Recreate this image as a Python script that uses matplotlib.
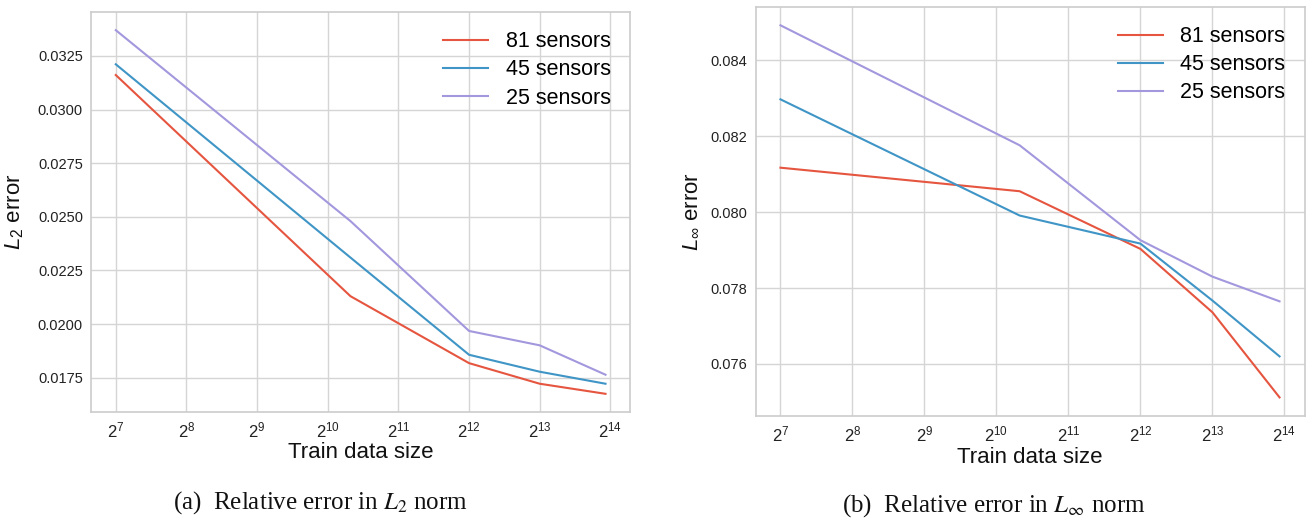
import matplotlib
matplotlib.use("Agg")
import matplotlib.pyplot as plt
from matplotlib.ticker import ScalarFormatter

# ---- data ----
train_sizes = [128, 1280, 4096, 8192, 15625]
labels = ["81 sensors", "45 sensors", "25 sensors"]

l2_81 = [0.03161, 0.0213, 0.01818, 0.01722, 0.01675]
l2_45 = [0.03211, 0.0231, 0.01857, 0.01778, 0.01722]
l2_25 = [0.0337, 0.0248, 0.01968, 0.01901, 0.01764]

linf_81 = [0.08117, 0.08055, 0.07903, 0.07736, 0.07512]
linf_45 = [0.08297, 0.07991, 0.07917, 0.07767, 0.0762]
linf_25 = [0.08492, 0.08176, 0.07926, 0.0783, 0.07765]

colors = ["#E5553F", "#3F95C6", "#A397DD"]

plt.rcParams["font.family"] = ["Liberation Sans", "DejaVu Sans"]
plt.rcParams["mathtext.fontset"] = "custom"
plt.rcParams["mathtext.rm"] = "Liberation Sans"
plt.rcParams["mathtext.it"] = "Liberation Sans:italic"
plt.rcParams["mathtext.fallback"] = "cm"

W, H = 1307, 521
fig = plt.figure(figsize=(W / 100, H / 100), dpi=100)

def px_axes(l, r, t, b):
    return fig.add_axes([l / W, (H - b) / H, (r - l) / W, (b - t) / H])

ax1 = px_axes(91.3, 630, 12, 412)
ax2 = px_axes(755.5, 1304.5, 6.7, 416)

def style(ax, series, ylabel, ylab_x):
    for ys, lab, c in zip(series, labels, colors):
        ax.plot(train_sizes, ys, color=c, lw=1.5, label=lab)
    ax.set_xscale("log", base=2)
    ax.set_facecolor("white")
    ax.grid(True, color="#d5d5d5", lw=1.0)
    ax.set_axisbelow(True)
    for s in ax.spines.values():
        s.set_color("#cccccc")
        s.set_linewidth(1.2)
    ax.tick_params(length=0, colors="#222222")
    ax.tick_params(axis="y", pad=6, labelsize=10.5)
    ax.tick_params(axis="x", pad=6, labelsize=12)
    ax.minorticks_off()
    fmt = ScalarFormatter(useOffset=False)
    ax.yaxis.set_major_formatter(fmt)
    ax.set_xlabel("Train data size", fontsize=16, color="#111111")
    ax.set_ylabel(ylabel, fontsize=16, color="#111111")
    ax.xaxis.set_label_coords(0.5, -0.075)
    ax.yaxis.set_label_coords(ylab_x, 0.5)
    ax.legend(loc="upper right", fontsize=15.5, frameon=False,
              labelspacing=0.33, handlelength=2.1, handletextpad=0.8,
              borderaxespad=0.5)

style(ax1, [l2_81, l2_45, l2_25], r"$L_2$ error", -0.122)
style(ax2, [linf_81, linf_45, linf_25], r"$L_\infty$ error", -0.098)

fig.text(320 / W, 1 - 503 / H, r"(a)  Relative error in $L_2$ norm",
         family="Liberation Serif", math_fontfamily="stix", fontsize=18,
         ha="center", va="center", color="#111111")
fig.text(994 / W, 1 - 506 / H, r"(b)  Relative error in $L_\infty$ norm",
         family="Liberation Serif", math_fontfamily="stix", fontsize=18,
         ha="center", va="center", color="#111111")

fig.savefig("out.png", dpi=100, facecolor="white")
